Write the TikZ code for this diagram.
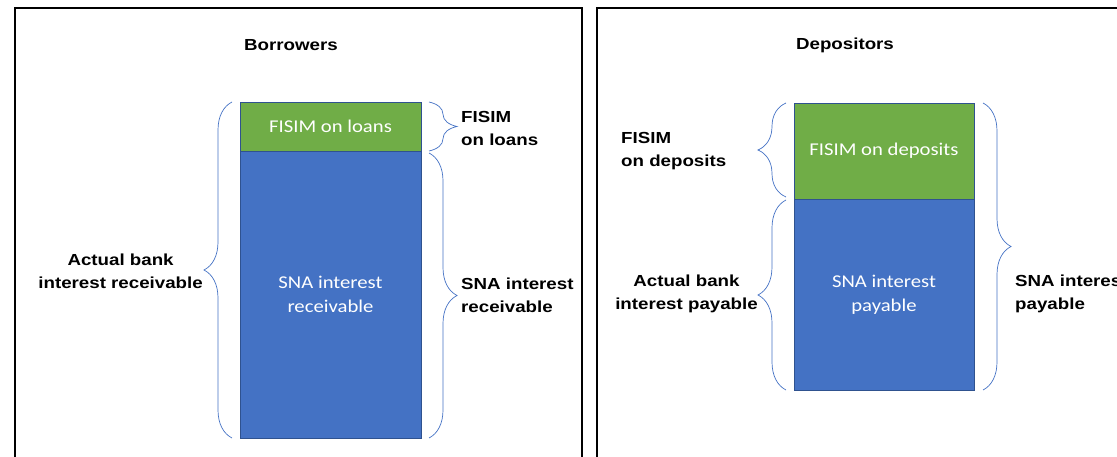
\documentclass[tikz,border=0pt]{standalone}
\usepackage{fontspec}
\newfontfamily\lblfont[FakeStretch=1.17]{Liberation Sans}
\newfontfamily\boxfont[FakeStretch=1.15]{Carlito}
\usetikzlibrary{decorations.pathreplacing}
\definecolor{box_green}{RGB}{112,173,71}
\definecolor{box_blue}{RGB}{68,114,196}
\definecolor{edge_blue}{RGB}{47,82,143}
\definecolor{brace_blue}{RGB}{68,114,196}

\begin{document}
\begin{tikzpicture}[x=1pt,y=-1pt]
    \tikzstyle{lbl}=[font=\lblfont\bfseries\fontsize{16}{23}\selectfont, inner sep=0pt]
    \tikzstyle{bar}=[draw=edge_blue, line width=0.9pt, inner sep=0pt, outer sep=0pt, text=white, align=center, font=\boxfont\fontsize{18}{24}\selectfont]
    \tikzstyle{fis}=[style=bar, fill=box_green]
    \tikzstyle{sna}=[style=bar, fill=box_blue]
    \tikzstyle{brc}=[draw=brace_blue, line width=0.7pt, decorate, decoration={brace, amplitude=28pt}]
    \tikzstyle{panel}=[draw=black, line width=1.6pt]

    \clip (0,0) rectangle (1117,457);
    \draw[panel] (15,8) rectangle (582,480);
    \draw[panel] (597,8) rectangle (1140,480);

    % borrowers
    \node[lbl] (borrow) at (291,45) {Borrowers};
    \node[fis, minimum width=181pt, minimum height=49pt]  (loanfis) at (330.5,126.5) {FISIM on loans};
    \node[sna, minimum width=181pt, minimum height=287pt] (loansna) at (330.5,294.5) {SNA interest\\receivable};
    \node[lbl, anchor=east, align=center] (actrec)  at (203,271) {Actual bank\\interest receivable};
    \node[lbl, anchor=west, align=left]   (fisloan) at (461,128) {FISIM\\on loans};
    \node[lbl, anchor=west, align=left]   (snarec)  at (461,295) {SNA interest\\receivable};

    % depositors
    \node[lbl] (deposit) at (845,45) {Depositors};
    \node[fis, minimum width=180pt, minimum height=96pt]  (depfis) at (884,151) {FISIM on deposits};
    \node[sna, minimum width=180pt, minimum height=191pt] (depsna) at (884,294.5) {SNA interest\\payable};
    \node[lbl, anchor=west, align=left]   (fisdep) at (621,151)  {FISIM\\on deposits};
    \node[lbl, anchor=east, align=center] (actpay) at (758,294)  {Actual bank\\interest payable};
    \node[lbl, anchor=west, align=left]   (snapay) at (1015,294) {SNA interest\\payable};

    \draw[brc] ([xshift=-8pt]loansna.south west) -- ([xshift=-8pt]loanfis.north west);
    \draw[brc] ([xshift=8pt]loanfis.north east) -- ([xshift=8pt]loanfis.south east);
    \draw[brc] ([xshift=8pt,yshift=-2pt]loansna.north east) -- ([xshift=8pt]loansna.south east);
    \draw[brc] ([xshift=-8pt,yshift=2pt]depfis.south west) -- ([xshift=-8pt]depfis.north west);
    \draw[brc] ([xshift=-8pt]depsna.south west) -- ([xshift=-8pt,yshift=-1pt]depsna.north west);
    \draw[brc] ([xshift=9pt]depfis.north east) -- ([xshift=9pt]depsna.south east);
\end{tikzpicture}
\end{document}
